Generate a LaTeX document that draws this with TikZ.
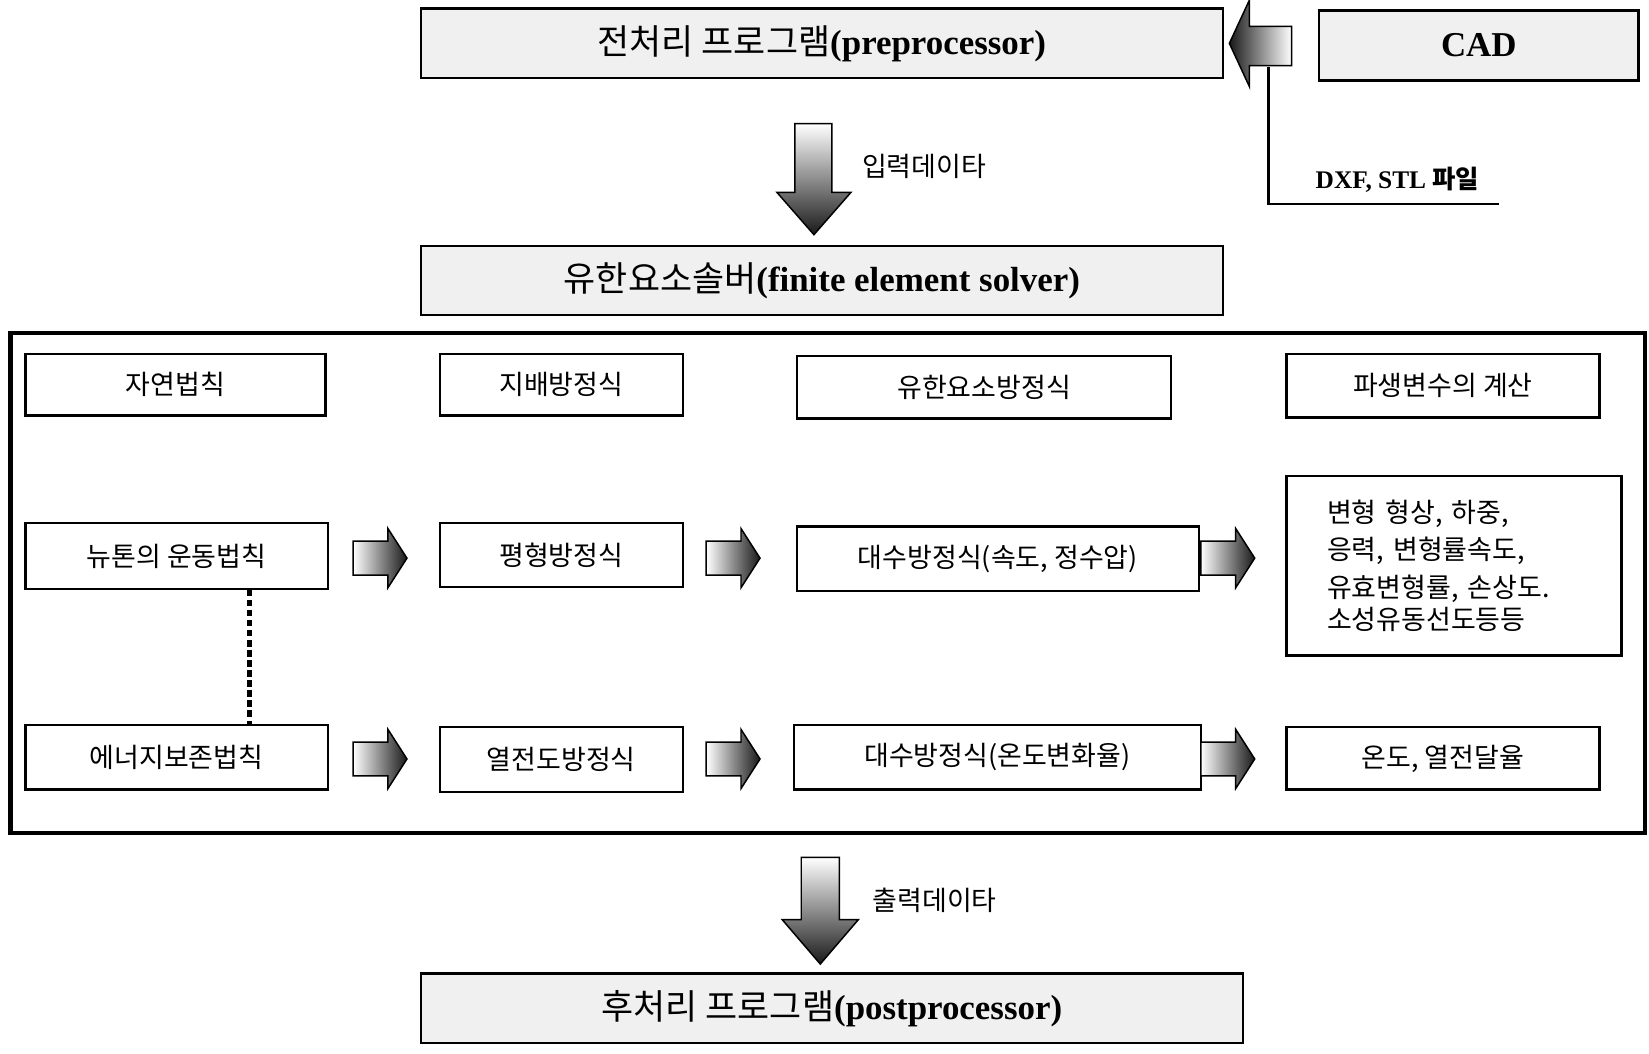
\documentclass[tikz,border=0pt]{standalone}
\usepackage{fontspec}
\setmainfont{Liberation Serif}
\newfontfamily\kr{Noto Sans CJK KR}
\usetikzlibrary{positioning}
\tikzset{
  box/.style={draw, line width=2.2pt, inner sep=0pt, font=\kr\fontsize{25.5}{30}\selectfont},
  title/.style={box, fill=black!6, font=\kr\fontsize{33}{38}\selectfont},
  lbl/.style={font=\kr\fontsize{25.5}{30}\selectfont},
  rarrow/.style={draw, line width=1.4pt, left color=white, right color=black!90},
  darrow/.style={draw, line width=1.4pt, top color=white, bottom color=black!90},
}
\newcommand{\lt}[1]{{\rmfamily\bfseries #1}}
\begin{document}
\begin{tikzpicture}[x=1pt,y=-1pt]
\useasboundingbox (0,0) rectangle (1560,997);

% top boxes
\node[title, minimum width=759, minimum height=66] (pre) at (777.5,41) {전처리 프로그램\lt{(preprocessor)}};
\node[title, minimum width=302, minimum height=66] (cad) at (1399,43) {\lt{CAD}};
\node[title, minimum width=759, minimum height=65] (fes) at (777.5,265.5) {유한요소솔버\lt{(finite element solver)}};
\node[title, minimum width=778, minimum height=66] (post) at (787,954) {후처리 프로그램\lt{(postprocessor)}};

% CAD arrow and file line
\shadedraw[draw, line width=1.4pt, left color=black!90, right color=white]
  (1163,41) -- (1182,0) -- (1182,25) -- (1222,25) -- (1222,62) -- (1182,62) -- (1182,82) -- cycle;
\draw[line width=2pt] (1200,63) -- (1200,193) -- (1418,193);
\node[lbl, font=\rmfamily\bfseries\fontsize{24}{28}\selectfont] (file) at (1322,170) {DXF, STL {\kr 파일}};

% down arrows
\shadedraw[darrow] (752,117) -- (787,117) -- (787,182) -- (805,182) -- (770,222) -- (735,182) -- (752,182) -- cycle;
\node[lbl, right] (inp) at (812,157) {입력데이타};
\shadedraw[darrow] (758,811) -- (794,811) -- (794,870) -- (812,870) -- (776,912) -- (740,870) -- (758,870) -- cycle;
\node[lbl, right] (outp) at (822,852) {출력데이타};

% frame
\draw[line width=4pt] (10,315) rectangle (1556,788);

% headers
\node[box, minimum width=284, minimum height=58] (h1) at (166,364) {자연법칙};
\node[box, minimum width=230, minimum height=58] (h2) at (531,364) {지배방정식};
\node[box, minimum width=354, minimum height=59] (h3) at (931,366.5) {유한요소방정식};
\node[box, minimum width=296, minimum height=60] (h4) at (1365,365) {파생변수의 계산};

% row 1
\node[box, minimum width=286, minimum height=62] (n1) at (167,526) {뉴톤의 운동법칙};
\node[box, minimum width=230, minimum height=60] (e1) at (531,525) {평형방정식};
\node[box, minimum width=380, minimum height=61] (a1) at (944,528.5) {대수방정식(속도, 정수압)};
\node[box, minimum width=317, minimum height=170, align=left, text width=240] (r1) at (1375.5,535)
  {\baselineskip=35.5pt 변형 형상, 하중,\\응력, 변형률속도,\\유효변형률, 손상도.\\소성유동선도등등};

% row 2
\node[box, minimum width=286, minimum height=61] (n2) at (167,716.5) {에너지보존법칙};
\node[box, minimum width=230, minimum height=61] (e2) at (531,718.5) {열전도방정식};
\node[box, minimum width=385, minimum height=61] (a2) at (943.5,716.5) {대수방정식(온도변화율)};
\node[box, minimum width=296, minimum height=59] (r2) at (1365,717.5) {온도, 열전달율};

\draw[line width=4.5pt, dash pattern=on 6pt off 3.5pt] (n1.south -| 236,0) -- (n2.north -| 236,0);

% right arrows
\foreach \x/\y in {334/528, 668/528, 1136/528, 334/718, 668/718, 1136/718}
  \shadedraw[rarrow] (\x,\y-16) -- (\x+33,\y-16) -- (\x+33,\y-28) -- (\x+51,\y) -- (\x+33,\y+28) -- (\x+33,\y+16) -- (\x,\y+16) -- cycle;
\end{tikzpicture}
\end{document}
